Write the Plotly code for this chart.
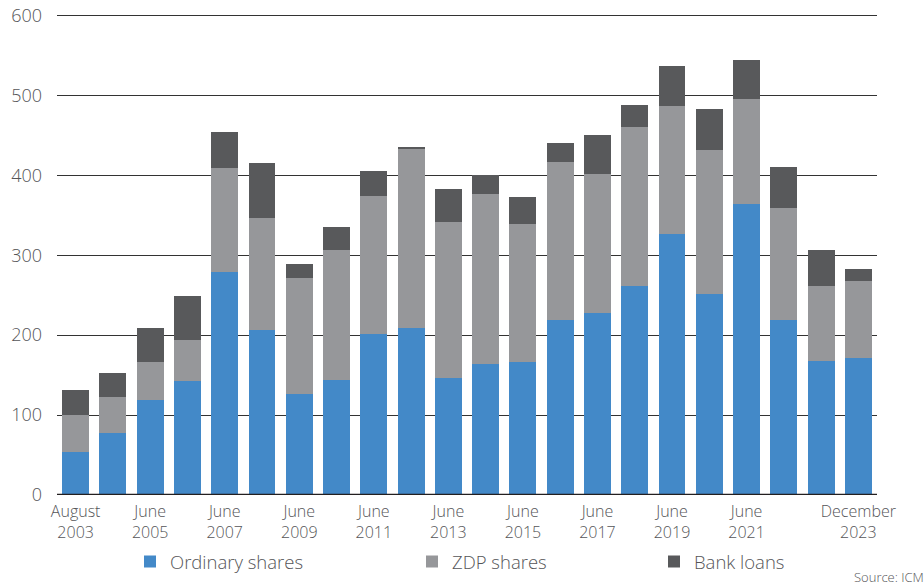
import plotly.graph_objects as go

periods = ["August 2003", "June 2004", "June 2005", "June 2006", "June 2007", "June 2008",
           "June 2009", "June 2010", "June 2011", "June 2012", "June 2013", "June 2014",
           "June 2015", "June 2016", "June 2017", "June 2018", "June 2019", "June 2020",
           "June 2021", "June 2022", "June 2023", "December 2023"]
ordinary_shares = [54, 77, 119, 143, 279, 206, 127, 144, 202, 209, 147, 164,
                   167, 219, 228, 262, 327, 252, 364, 219, 168, 172]
zdp_shares = [46, 46, 48, 51, 130, 140, 145, 162, 172, 224, 194, 213,
              172, 198, 174, 199, 160, 180, 132, 140, 94, 96]
bank_loans = [32, 30, 42, 55, 45, 69, 17, 29, 32, 3, 42, 24,
              34, 24, 49, 27, 50, 51, 48, 52, 44, 15]
labelled_periods = ["August 2003", "June 2005", "June 2007", "June 2009", "June 2011",
                    "June 2013", "June 2015", "June 2017", "June 2019", "June 2021",
                    "December 2023"]
y_ticks = [0, 100, 200, 300, 400, 500, 600]

FONT = "Open Sans"
TXT = "#555558"

fig = go.Figure()
fig.add_trace(go.Bar(x=periods, y=ordinary_shares, name="Ordinary shares",
                     marker=dict(color="#4389C8", line=dict(width=0)), legend="legend"))
fig.add_trace(go.Bar(x=periods, y=zdp_shares, name="ZDP shares",
                     marker=dict(color="#96979A", line=dict(width=0)), legend="legend2"))
fig.add_trace(go.Bar(x=periods, y=bank_loans, name="Bank loans",
                     marker=dict(color="#58595B", line=dict(width=0)), legend="legend3"))

leg_common = dict(orientation="h", xref="container", yref="container",
                  yanchor="middle", y=0.041, xanchor="left",
                  font=dict(family=FONT, size=18.5, color=TXT, weight=300),
                  bgcolor="rgba(0,0,0,0)")

fig.update_layout(
    barmode="stack",
    bargap=0.28,
    width=924, height=586,
    margin=dict(l=57, r=47, t=13, b=90.5, autoexpand=False),
    plot_bgcolor="white", paper_bgcolor="white",
    font=dict(family=FONT, color=TXT),
    showlegend=True,
    legend=dict(x=0.1407, **leg_common),
    legend2=dict(x=0.4459, **leg_common),
    legend3=dict(x=0.7078, **leg_common),
    xaxis=dict(
        type="category",
        tickmode="array",
        tickvals=labelled_periods,
        ticktext=[p.replace(" ", "<br>") for p in labelled_periods],
        tickfont=dict(family=FONT, size=16, color=TXT, weight=300),
        showgrid=False, ticks="", showline=False, zeroline=False,
        range=[-0.5, len(periods) - 0.5],
        ticklabelstandoff=5,
        automargin=False,
    ),
    yaxis=dict(
        range=[0, 603.1],
        tickvals=y_ticks,
        tickfont=dict(family=FONT, size=18, color=TXT, weight=300),
        showgrid=True, gridcolor="#333333", gridwidth=1.3,
        zeroline=False, showline=False, ticks="",
        ticklabelstandoff=14,
        automargin=False,
    ),
    annotations=[dict(text="Source: ICM", xref="paper", yref="paper", x=1.06, y=-0.171,
                      xanchor="right", yanchor="middle", showarrow=False,
                      font=dict(family=FONT, size=13, color=TXT, weight=300))],
    shapes=[dict(type="line", xref="paper", yref="y", x0=0, x1=1, y0=0, y1=0,
                 line=dict(color="#231F20", width=2.5), layer="above")],
)

fig.write_html("out.html", config={"displayModeBar": False},
               post_script="document.body.style.margin='0';")
